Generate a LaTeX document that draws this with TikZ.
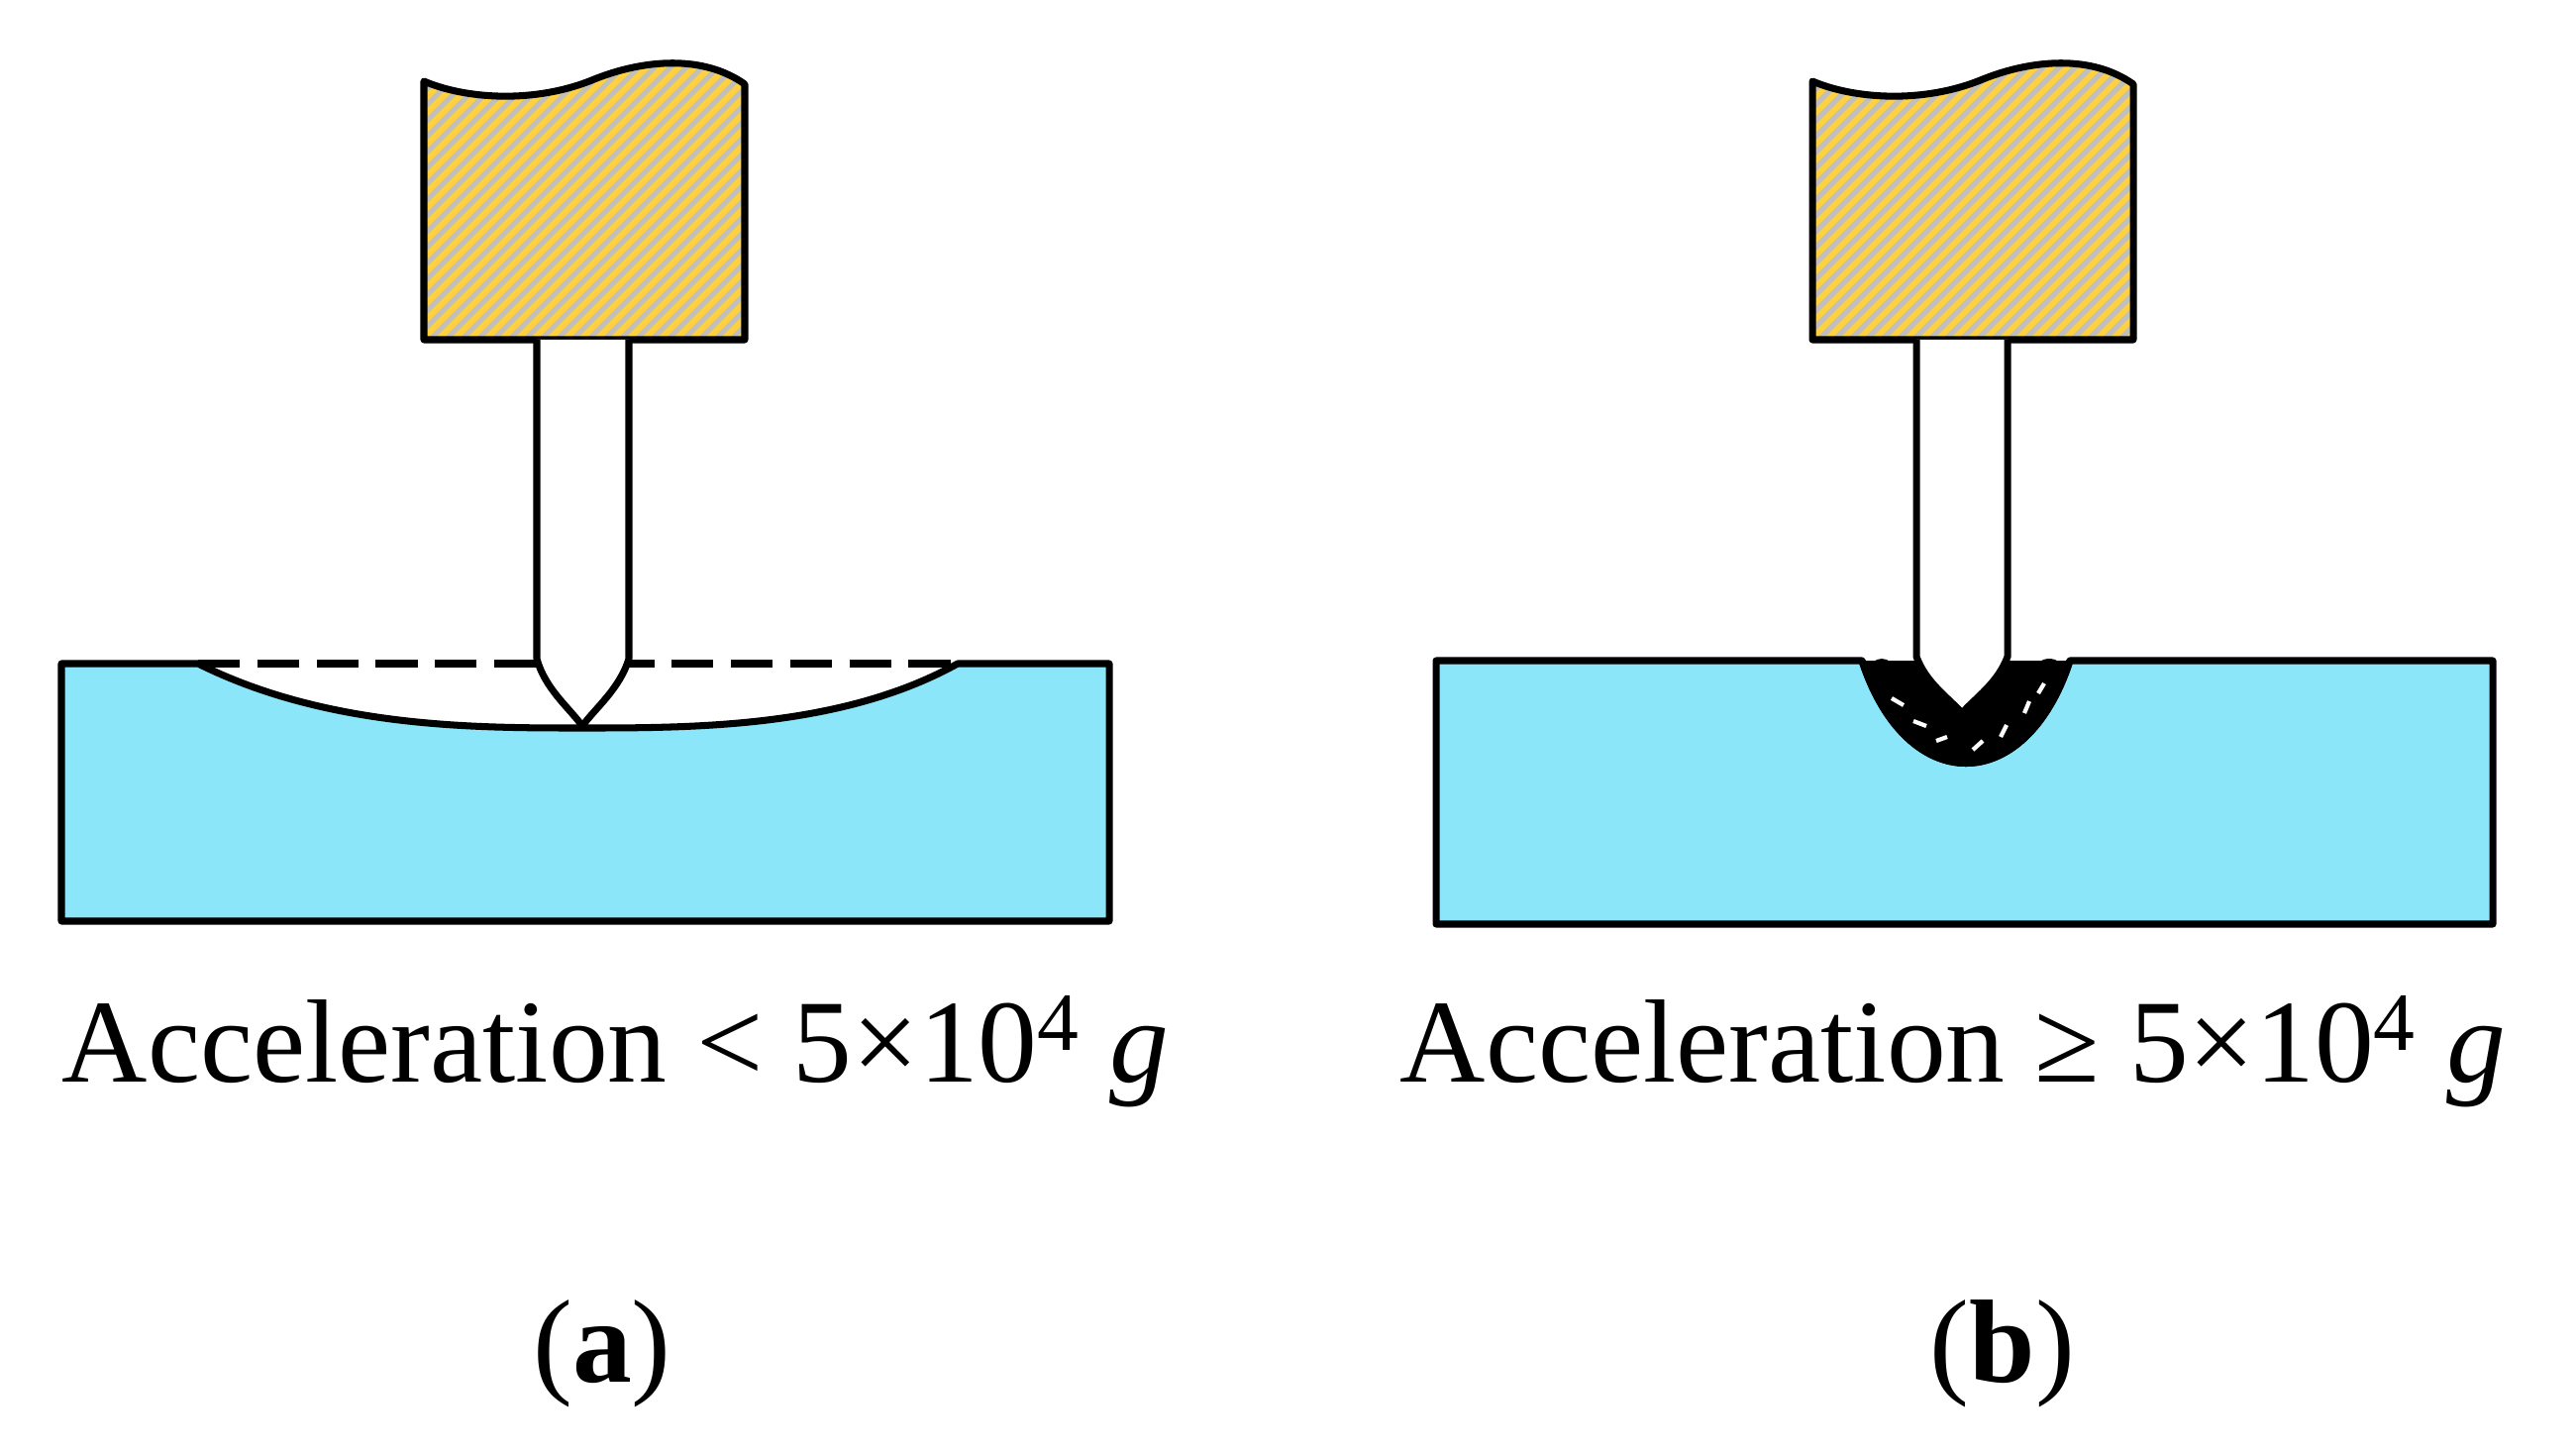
\documentclass[tikz,border=0pt]{standalone}
\usepackage{fontspec}
\setmainfont{Liberation Serif}
\begin{document}
\begin{tikzpicture}[x=0.01cm,y=-0.01cm,
  ol/.style={line width=2pt,line join=round},
  work/.style={ol,fill=cyan0},
  lbl/.style={font=\fontsize{34}{38}\selectfont,anchor=base west,inner sep=0pt}]
\definecolor{cyan0}{HTML}{8AE6F8}
\definecolor{gold}{HTML}{FFD040}
\definecolor{stripe}{HTML}{BFBFC0}
\useasboundingbox (0,0) rectangle (2601,1467);
\fill[white] (0,0) rectangle (2601,1467);
% ---------- holders
\foreach \dx/\nm in {0/A,1402/B}{
  \begin{scope}[xshift=\dx*0.01cm]
  \path[fill=gold] (428,82) .. controls (470,100) and (540,105) .. (600,80)
     .. controls (650,60) and (710,55) .. (752,85) -- (752,343) -- (428,343) -- cycle;
  \begin{scope}
    \clip (428,82) .. controls (470,100) and (540,105) .. (600,80)
     .. controls (650,60) and (710,55) .. (752,85) -- (752,343) -- (428,343) -- cycle;
    \foreach \i in {0,16,...,700}{
      \draw[stripe,line width=1.5pt] (428+\i-330,343) -- (428+\i,343-330);
    }
  \end{scope}
  \draw[ol] (428,82) .. controls (470,100) and (540,105) .. (600,80)
     .. controls (650,60) and (710,55) .. (752,85) -- (752,343) -- (428,343) -- cycle;
  \end{scope}
}
% ---------- panel a
\draw[work] (62,670) -- (200,670) .. controls (330,735) and (480,735) .. (587,735)
   .. controls (700,735) and (850,735) .. (967,670) -- (1120,670) -- (1120,930) -- (62,930) -- cycle;
\draw[ol,dash pattern=on 12pt off 5pt] (200,670) -- (967,670);
\draw[ol,fill=white] (542,343) -- (542,665) .. controls (550,695) and (575,715) .. (588,733)
   .. controls (601,715) and (626,695) .. (635,665) -- (635,343);
\node[lbl] (la) at (62,1092) {Acceleration < 5×10\textsuperscript{4} \textit{g}};
\node[font=\fontsize{34}{38}\selectfont,anchor=base] (ca) at (608,1395) {(\textbf{a})};
% ---------- panel b
\fill[black] (1880,667) .. controls (1925,805) and (2045,805) .. (2090,667) -- cycle;
\foreach \px/\py in {1902/680,1925/700,1945/730,1965/748,1995/752,2022/738,2045/705,2068/678}
  \fill[black] (\px,\py) circle (13);
\foreach \ax/\ay/\bx/\by in {1910/712/1924/718,1935/738/1948/742,1958/758/1970/753,2000/760/2008/748,2025/750/2030/736,2048/722/2052/709,2060/698/2066/688}
  \draw[white,line width=1pt] (\ax,\ay) -- (\bx,\by);
\draw[work] (1450,667) -- (1880,667) .. controls (1925,805) and (2045,805) .. (2090,667)
   -- (2517,667) -- (2517,933) -- (1450,933) -- cycle;
\fill[black] (1880,667) .. controls (1925,805) and (2045,805) .. (2090,667) -- cycle;
\foreach \px/\py in {1900/678,1922/690,1950/712,2020/712,2048/690,2070/678}
  \fill[black] (\px,\py) circle (13);
\foreach \ax/\ay/\bx/\by in {1910/705/1922/712,1932/728/1945/733,1955/748/1966/744,1992/757/2002/748,2020/744/2026/732,2044/720/2049/708,2058/700/2064/690}
  \draw[white,line width=1.2pt] (\ax,\ay) -- (\bx,\by);
\draw[ol] (1880,667) .. controls (1925,805) and (2045,805) .. (2090,667);
\draw[ol,fill=white] (1935,343) -- (1935,663) .. controls (1945,690) and (1968,705) .. (1981,720)
   .. controls (1994,705) and (2017,690) .. (2027,663) -- (2027,343);
\node[lbl] (lb) at (1413,1092) {Acceleration ≥ 5×10\textsuperscript{4} \textit{g}};
\node[font=\fontsize{34}{38}\selectfont,anchor=base] (cb) at (2022,1395) {(\textbf{b})};
\end{tikzpicture}
\end{document}
